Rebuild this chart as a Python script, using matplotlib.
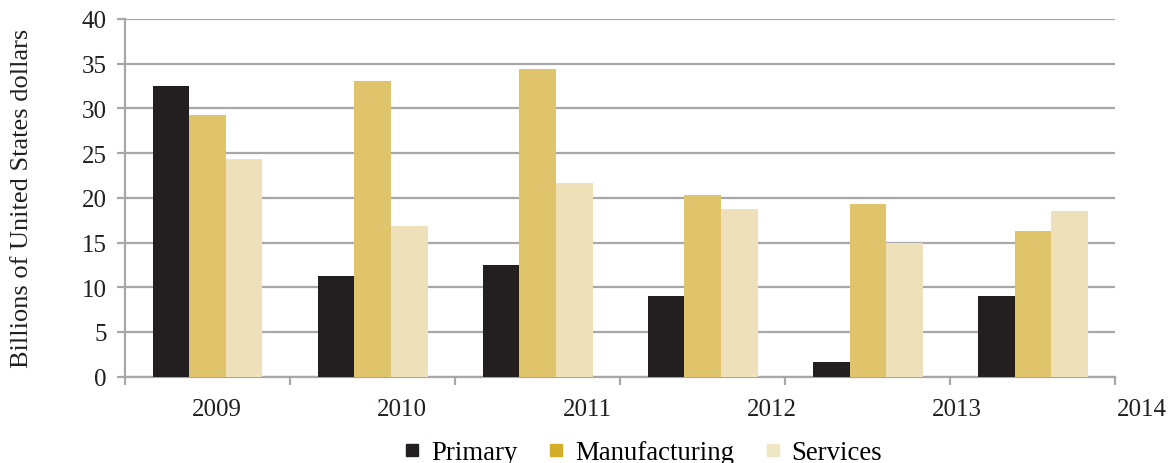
import numpy as np
import matplotlib
matplotlib.use('Agg')
import matplotlib.pyplot as plt
import matplotlib.transforms as mtransforms
from matplotlib.lines import Line2D

years = ['2009', '2010', '2011', '2012', '2013', '2014']
primary = [32.5, 11.3, 12.45, 9.05, 1.65, 9.05]
manufacturing = [29.3, 33.1, 34.35, 20.35, 19.35, 16.3]
services = [24.35, 16.9, 21.7, 18.8, 15.0, 18.55]

c_primary = '#231f20'
c_manuf = '#dfc46c'
c_serv = '#eee0b8'
c_grid = '#a7a7a9'
c_text = '#231f20'

plt.rcParams['font.family'] = ['Liberation Serif', 'DejaVu Serif']

fig = plt.figure(figsize=(11.68, 4.64), dpi=100)
ax = fig.add_axes([0.107, 0.186, 0.848, 0.771])

x = np.arange(len(primary))
w = 0.222
ax.bar(x - w, primary, w, color=c_primary, zorder=3)
ax.bar(x, manufacturing, w, color=c_manuf, zorder=3)
ax.bar(x + w, services, w, color=c_serv, zorder=3)

ax.set_yticks(range(0, 41, 5))
ax.yaxis.grid(True, color=c_grid, linewidth=1.6, zorder=0)
ax.set_axisbelow(True)

# tick marks on the group boundaries, no labels there
ax.set_xticks(np.arange(-0.5, len(primary), 1.0))
ax.set_xticklabels([])
ax.tick_params(axis='x', length=6, width=1.6, color=c_grid)
ax.tick_params(axis='y', length=6, width=1.6, color=c_grid, pad=7,
               labelsize=18, labelcolor=c_text)
ax.set_xlim(-0.5, len(primary) - 0.5)
ax.set_ylim(0, 40)

# year labels drift along on their own spacing
trans = mtransforms.blended_transform_factory(ax.transData, ax.transAxes)
for i, yr in enumerate(years):
    ax.text(i * 1.121 + 0.058, -0.09, yr, transform=trans, ha='center', va='center',
            fontsize=18, color=c_text, clip_on=False)

for s in ['top', 'right']:
    ax.spines[s].set_visible(False)
for s in ['left', 'bottom']:
    ax.spines[s].set_color(c_grid)
    ax.spines[s].set_linewidth(1.6)

fig.text(0.019, 0.572, 'Billions of United States dollars', rotation=90,
         ha='center', va='center', fontsize=19, color=c_text)

handles = [Line2D([], [], marker='s', linestyle='', markersize=8.6, color=c_primary),
           Line2D([], [], marker='s', linestyle='', markersize=8.6, color='#d4ae24'),
           Line2D([], [], marker='s', linestyle='', markersize=8.6, color='#efe6c6')]
fig.legend(handles, ['Primary', 'Manufacturing', 'Services'], loc='center',
           bbox_to_anchor=(0.55, 0.022), ncol=3, frameon=False, fontsize=19.3,
           handletextpad=0.35, columnspacing=1.1, handlelength=0.7)

fig.savefig('out.png', dpi=100)
